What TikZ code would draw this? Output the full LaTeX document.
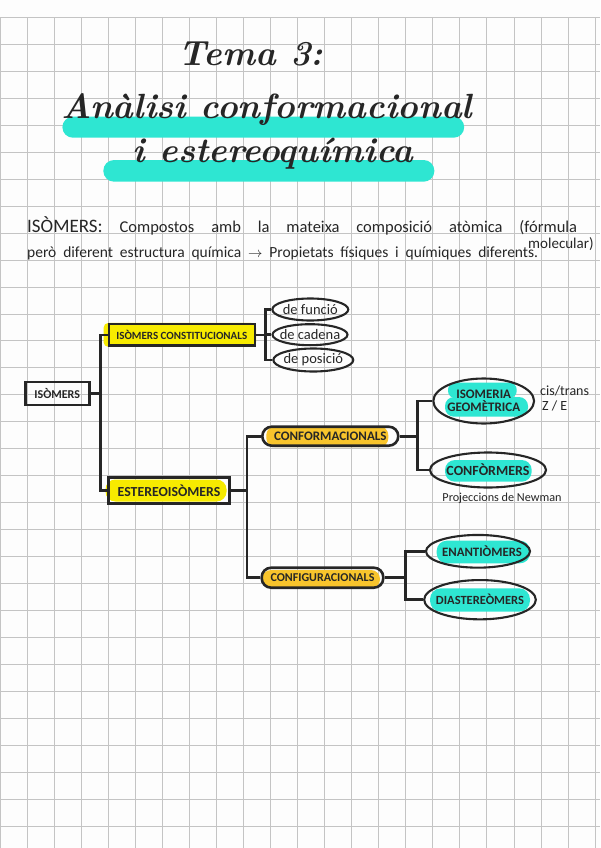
\documentclass[tikz,border=0pt]{standalone}
\usepackage{fontspec}
\usepackage{tikz}
\usetikzlibrary{shapes.geometric,calc}
\newfontfamily\handfont{Carlito}
\definecolor{paper}{HTML}{FDFDFD}
\definecolor{gridgray}{HTML}{C4C4C4}
\definecolor{ink}{HTML}{262626}
\definecolor{turq}{HTML}{2EE6D2}
\definecolor{lemon}{HTML}{F7EB00}
\definecolor{amber}{HTML}{F8C42C}
\newcommand{\nowidth}[1]{\makebox[0pt]{#1}}
\newcommand{\titlefont}{\rmfamily\bfseries\itshape\fontsize{35}{35}\selectfont}
\pgfdeclarelayer{paper}
\pgfdeclarelayer{marker}
\pgfsetlayers{paper,marker,main}

\begin{document}
\begin{tikzpicture}[x=1pt,y=-1pt,
  lbl/.style={font=\handfont\fontsize{#1}{#1}\selectfont},
  caps/.style={font=\handfont\bfseries\fontsize{#1}{#1}\selectfont},
  txt/.style={inner sep=0pt,text=ink},
  box/.style={draw=ink,line width=2.6pt,inner sep=0pt,text=ink},
  pill/.style={box,rounded corners=9.5pt},
  oval/.style={draw=ink,line width=2.1pt,ellipse,inner sep=0pt,text=ink},
  link/.style={draw=ink,line width=2.6pt},
  gridline/.style={draw=gridgray,line width=0.9pt}]
  \useasboundingbox (0,0) rectangle (600,848);

  % squared paper
  \begin{pgfonlayer}{paper}
    \fill[paper] (0,0) rectangle (600,848);
    \foreach \i in {0,...,22}
      \draw[gridline] (27.05*\i,17.3) -- (27.05*\i,848);
    \foreach \j in {0,...,30}
      \draw[gridline] (0,17.3+26.97*\j) -- (600,17.3+26.97*\j);
  \end{pgfonlayer}

  % title
  \node[txt,font=\titlefont,anchor=base] (tema) at (251,66) {Tema 3:};
  \node[txt,font=\titlefont,anchor=base] (analisi) at (267,119) {Anàlisi conformacional};
  \node[txt,font=\titlefont,anchor=base] (estereo) at (273,162) {i estereoquímica};

  % definition
  \node[txt,lbl=16.5,anchor=base west] (def) at (27,232.5)
    {\makebox[550pt][s]{{\fontsize{19}{19}\selectfont ISÒMERS:} Compostos amb la mateixa composició atòmica (fórmula}};
  \node[txt,lbl=15,anchor=base west] (defmol) at (528,248.5) {molecular)};
  \node[txt,lbl=15.5,anchor=base west] (defprop) at (27,257)
    {\makebox[511pt][s]{però diferent estructura química $\rightarrow$ Propietats físiques i químiques diferents.}};

  % tree
  \node[box,caps=12,minimum width=64pt,minimum height=23pt] (iso) at (57.2,393.5) {ISÒMERS};
  \node[box,caps=11,minimum width=146pt,minimum height=21.5pt] (cons) at (181.8,334.9) {ISÒMERS CONSTITUCIONALS};
  \node[box,caps=13.8,minimum width=120.5pt,minimum height=25.5pt] (est) at (169,490.5) {ESTEREOISÒMERS};

  \node[oval,lbl=14.5,minimum width=76pt,minimum height=22pt] (funcio) at (310.3,309.5) {\nowidth{de funció}};
  \node[oval,lbl=14.5,minimum width=75pt,minimum height=21pt] (cadena) at (310,334.7) {\nowidth{de cadena}};
  \node[oval,lbl=14.5,minimum width=80pt,minimum height=23pt] (posicio) at (313.3,360) {\nowidth{de posició}};

  \node[pill,caps=13,minimum width=136pt,minimum height=19pt] (conf) at (330.3,436.2) {CONFORMACIONALS};
  \node[pill,caps=12,minimum width=121.6pt,minimum height=20pt] (config) at (322.5,577.7) {CONFIGURACIONALS};

  \node[oval,caps=13,align=center,minimum width=100.7pt,minimum height=45pt] (isomeria) at (483.7,401)
    {\nowidth{ISOMERIA}\\\nowidth{GEOMÈTRICA}};
  \node[oval,caps=14,minimum width=116pt,minimum height=35pt] (conformers) at (488,470) {\nowidth{CONFÒRMERS}};
  \node[oval,caps=12.8,minimum width=104pt,minimum height=32.7pt] (enant) at (478,551.3) {\nowidth{\hspace{8pt}ENANTIÒMERS}};
  \node[oval,caps=12.5,minimum width=111.7pt,minimum height=39.3pt] (diast) at (480,599.7) {\nowidth{DIASTEREÒMERS}};

  \node[txt,lbl=14,anchor=base west] (cistrans) at (540,395) {cis/trans};
  \node[txt,lbl=14,anchor=base west] (ze) at (542,410) {Z / E};
  \node[txt,lbl=12.2,anchor=base] (newman) at (502,501) {Projeccions de Newman};

  % branches
  \draw[link] (iso.east) -- ++(10,0) coordinate (jiso) |- (cons.west);
  \draw[link] (jiso) |- (est.west);
  \draw[link] (cons.east) -- ++(9.3,0) coordinate (jcons) |- (funcio.west);
  \draw[link] (jcons) |- (cadena.west);
  \draw[link] (jcons) |- (posicio.west);
  \draw[link] (est.east) -- ++(16.4,0) coordinate (jest) |- (conf.west);
  \draw[link] (jest) |- (config.west);
  \draw[link] (conf.east) -- ++(17.7,0) coordinate (jconf) |- (isomeria.west);
  \draw[link] (jconf) |- (conformers.west);
  \draw[link] (config.east) -- ++(20.7,0) coordinate (jconfig) |- (enant.west);
  \draw[link] (jconfig) |- (diast.west);

  % highlighter
  \begin{pgfonlayer}{marker}
    \fill[turq,rounded corners=10.5pt] (62.4,116.7) rectangle (464.2,137.7);
    \fill[turq,rounded corners=10.8pt] (103.3,160) rectangle (434.4,181.7);
    \fill[lemon,rounded corners=5pt] ($(cons.south west)+(-4,0)$) rectangle (cons.north east);
    \fill[lemon,rounded corners=10pt] ($(est.west)+(-2,-11)$) rectangle ($(est.east)+(-4,11)$);
    \fill[amber,rounded corners=9pt] ($(conf.center)+(-64,-10)$) rectangle ($(conf.center)+(58,11)$);
    \fill[amber,rounded corners=9pt] ($(config.center)+(-60.5,-7.7)$) rectangle ($(config.center)+(57.5,10.6)$);
    \fill[turq,rounded corners=7pt] ($(isomeria.center)+(-35.7,-18.3)$) rectangle ($(isomeria.center)+(33,-3)$);
    \fill[turq,rounded corners=9pt] ($(isomeria.center)+(-38.7,-4)$) rectangle ($(isomeria.center)+(44.3,15.7)$);
    \fill[turq,rounded corners=10pt] ($(conformers.center)+(-43,-10)$) rectangle ($(conformers.center)+(43.7,11.7)$);
    \fill[turq,rounded corners=10pt] ($(enant.center)+(-41.3,-10.6)$) rectangle ($(enant.center)+(52,12)$);
    \fill[turq,rounded corners=11pt] ($(diast.center)+(-50,-11.4)$) rectangle ($(diast.center)+(50,12)$);
  \end{pgfonlayer}
\end{tikzpicture}
\end{document}
